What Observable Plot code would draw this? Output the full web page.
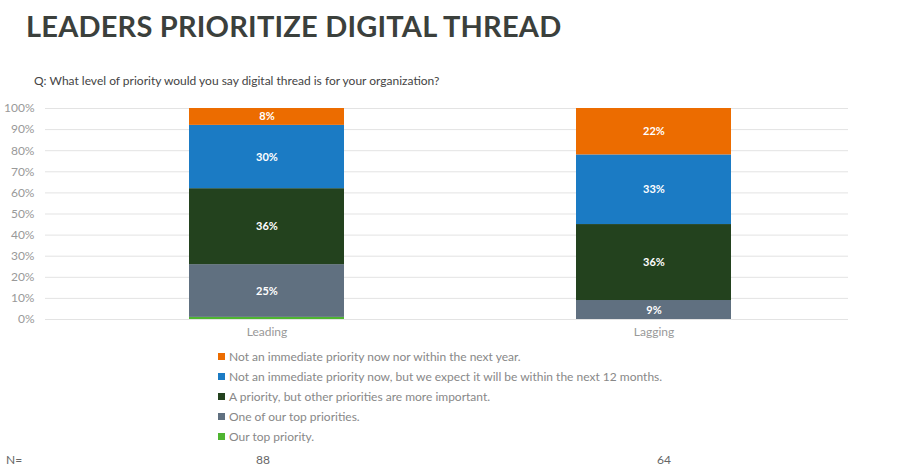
<!DOCTYPE html>
<html><head><meta charset="utf-8">
<script src="https://cdn.jsdelivr.net/npm/d3@7"></script>
<script src="https://cdn.jsdelivr.net/npm/@observablehq/plot@0.6"></script>
<style>
body{margin:0;width:900px;height:472px;position:relative;font-family:Lato,"Open Sans",sans-serif;background:#fff;overflow:hidden}
#title{position:absolute;left:26px;top:8px;font-size:29px;font-weight:bold;color:#3b403c;letter-spacing:0.2px}
#sub{position:absolute;left:34px;top:73px;font-size:12px;color:#444}
#chart{position:absolute;left:0;top:95px}
#legend{position:absolute;left:218px;top:347px;font-size:12px;color:#888}
#legend div{height:19.8px;display:flex;align-items:center}
#legend span.sw{width:7px;height:7px;margin-right:4px;display:inline-block}
.n{position:absolute;top:452px;font-size:12px;color:#666}
</style></head><body>
<div id="title">LEADERS PRIORITIZE DIGITAL THREAD</div>
<div id="sub">Q: What level of priority would you say digital thread is for your organization?</div>
<div id="chart"></div>
<div id="legend"></div>
<div class="n" style="left:6px">N=</div>
<div class="n" id="n0" style="left:256px"></div>
<div class="n" id="n1" style="left:657px"></div>
<script>
const groups = ["Leading","Lagging"];
const nValues = [88,64];
const series = ["Our top priority.","One of our top priorities.","A priority, but other priorities are more important.","Not an immediate priority now, but we expect it will be within the next 12 months.","Not an immediate priority now nor within the next year."];
const colors = ["#4fb531","#607080","#23421e","#1b7bc4","#ec6c00"];
const leading = [1,25,36,30,8];
const lagging = [0,9,36,33,22];
const yTicks = [0,10,20,30,40,50,60,70,80,90,100];

const data = [];
[leading,lagging].forEach((vals,gi)=>vals.forEach((v,si)=>data.push({group:groups[gi],series:series[si],value:v})));

const chart = Plot.plot({
  width:900,height:260,marginTop:13,marginBottom:36,marginLeft:45,marginRight:52,
  style:{fontFamily:"Lato, sans-serif",fontSize:"12px",color:"#999"},
  x:{domain:groups,range:[189,731],paddingInner:0.6,paddingOuter:0,label:null,tickSize:0,tickPadding:8},
  y:{domain:[0,100],ticks:yTicks,tickFormat:d=>d+"%",label:null,tickSize:0,tickPadding:11},
  color:{domain:series,range:colors},
  marks:[
    Plot.ruleY(yTicks,{stroke:"#e3e3e3"}),
    Plot.barY(data,{x:"group",y:"value",fill:"series"}),
    Plot.text(data,Plot.stackY({x:"group",y:"value",z:"series",text:d=>d.value>=5?d.value+"%":"",fill:"white",fontWeight:"bold",fontSize:11}))
  ]
});
document.getElementById("chart").appendChild(chart);
const lg=document.getElementById("legend");
for(let i=series.length-1;i>=0;i--){
  const d=document.createElement("div");
  d.innerHTML=`<span class="sw" style="background:${colors[i]}"></span>${series[i]}`;
  lg.appendChild(d);
}
document.getElementById("n0").textContent=nValues[0];
document.getElementById("n1").textContent=nValues[1];
</script>
</body></html>
